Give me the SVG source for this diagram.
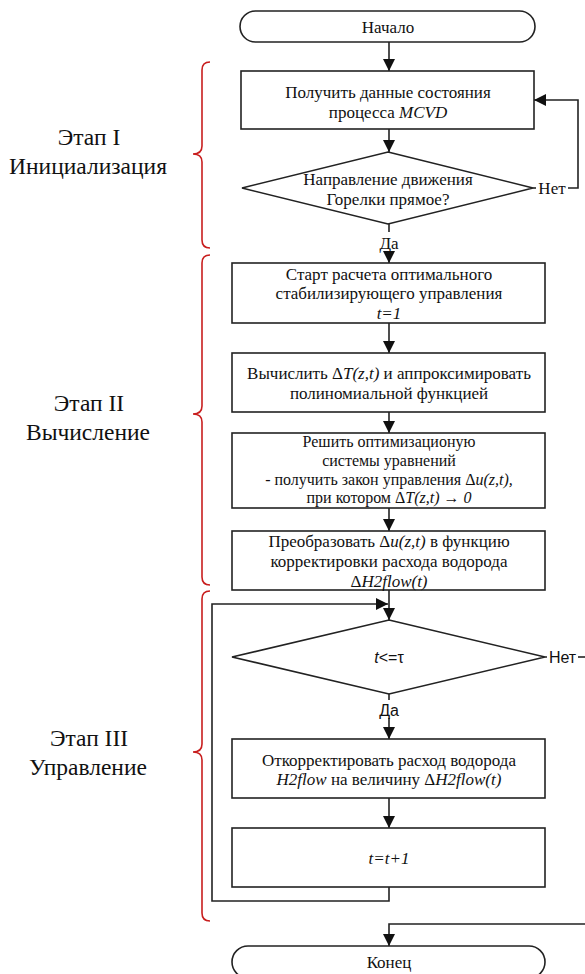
<svg xmlns="http://www.w3.org/2000/svg" width="585" height="974" viewBox="0 0 585 974" font-family="Liberation Serif, Times New Roman, serif">
<defs>
<style>
.n{fill:#fff;stroke:#222;stroke-width:1.6}
.c{fill:none;stroke:#222;stroke-width:1.6}
.b{fill:none;stroke:#c81e1e;stroke-width:1.6}
.t{font-size:17px;fill:#111;text-anchor:middle}
.m{font-size:16px}
.s{font-size:23.5px;fill:#111;text-anchor:middle}
.f{font-size:16px;fill:#111;text-anchor:middle}
.i{font-style:italic}
</style>
<marker id="ah" viewBox="0 0 12 12" refX="12" refY="6" markerWidth="12" markerHeight="12" markerUnits="userSpaceOnUse" orient="auto">
<path d="M0,0 L12,6 L0,12 z" fill="#111"/>
</marker>
</defs>
<rect width="585" height="974" fill="#fff"/>

<g id="connectors">
<path class="c" d="M389,42 V71" marker-end="url(#ah)"/>
<path class="c" d="M389,129 V152" marker-end="url(#ah)"/>
<path class="c" d="M533,188 H536"/>
<path class="c" d="M568,188 H578 V100 H534" marker-end="url(#ah)"/>
<path class="c" d="M389,224 V232"/>
<path class="c" d="M389,252 V263" marker-end="url(#ah)"/>
<path class="c" d="M389,323 V353" marker-end="url(#ah)"/>
<path class="c" d="M389,412 V433" marker-end="url(#ah)"/>
<path class="c" d="M389,508 V531" marker-end="url(#ah)"/>
<path class="c" d="M389,590 V620" marker-end="url(#ah)"/>
<path class="c" d="M545,657 H547"/>
<path class="c" d="M578,657 H585"/>
<path class="c" d="M389,694 V700"/>
<path class="c" d="M389,718 V739" marker-end="url(#ah)"/>
<path class="c" d="M389,798 V828" marker-end="url(#ah)"/>
<path class="c" d="M389,887 V901 H212 V604 H388" marker-end="url(#ah)"/>
<path class="c" d="M586,924 H389 V946" marker-end="url(#ah)"/>
<text class="t" x="552" y="193.5">Нет</text>
<text class="t" x="389" y="249">Да</text>
<text class="f" x="562.5" y="662.5" font-family="Liberation Sans, Arial, sans-serif">Нет</text>
<text class="f" x="389" y="716" font-family="Liberation Sans, Arial, sans-serif">Да</text>
</g>

<g id="start">
<rect class="n" x="240" y="11" width="295" height="31" rx="15.5"/>
<text class="t" x="388" y="32.5">Начало</text>
</g>

<g id="get-data">
<rect class="n" x="241" y="71" width="293" height="58"/>
<text class="t" x="388" y="97.5">Получить данные состояния</text>
<text class="t" x="388" y="117.5">процесса <tspan class="i">MCVD</tspan></text>
</g>

<g id="direction">
<polygon class="n" points="388,152 533,188 388,224 242,188"/>
<text class="t" x="388" y="184.5">Направление движения</text>
<text class="t" x="388" y="204.5">Горелки прямое?</text>
</g>

<g id="start-calc">
<rect class="n" x="232" y="263" width="313" height="60"/>
<text class="t" x="389" y="280">Старт расчета оптимального</text>
<text class="t" x="389" y="299">стабилизирующего управления</text>
<text class="t i" x="389" y="318.5">t=1</text>
</g>

<g id="compute">
<rect class="n" x="232" y="353" width="313" height="59"/>
<text class="t" x="389" y="378.5">Вычислить Δ<tspan class="i">T(z,t)</tspan> и аппроксимировать</text>
<text class="t" x="389" y="398.5">полиномиальной функцией</text>
</g>

<g id="solve">
<rect class="n" x="232" y="433" width="313" height="75"/>
<text class="t m" x="389" y="447">Решить оптимизационую</text>
<text class="t m" x="389" y="466">системы уравнений</text>
<text class="t m" x="389" y="484.5">- получить закон управления Δ<tspan class="i">u(z,t),</tspan></text>
<text class="t m" x="389" y="503">при котором Δ<tspan class="i">T(z,t) → 0</tspan></text>
</g>

<g id="transform">
<rect class="n" x="232" y="531" width="313" height="59"/>
<text class="t" x="389" y="547">Преобразовать Δ<tspan class="i">u(z,t)</tspan> в функцию</text>
<text class="t" x="389" y="567">корректировки расхода водорода</text>
<text class="t" x="389" y="587">Δ<tspan class="i">H2flow(t)</tspan></text>
</g>

<g id="check-t">
<polygon class="n" points="389,620 545,657 389,694 232,657"/>
<text class="f" x="389" y="662.5" font-family="Liberation Sans, Arial, sans-serif"><tspan class="i">t</tspan>&lt;=τ</text>
</g>

<g id="correct">
<rect class="n" x="232" y="739" width="313" height="59"/>
<text class="t" x="389" y="765.5">Откорректировать расход водорода</text>
<text class="t" x="389" y="784.5"><tspan class="i">H2flow</tspan> на величину Δ<tspan class="i">H2flow(t)</tspan></text>
</g>

<g id="increment">
<rect class="n" x="232" y="828" width="313" height="59"/>
<text class="t i" x="389" y="863.5">t=t+1</text>
</g>

<g id="end">
<rect class="n" x="232" y="946" width="313" height="32" rx="16"/>
<text class="t" x="389" y="967.5">Конец</text>
</g>

<g id="stage1">
<path class="b" d="M210,62 Q202,62 202,70 V146 Q202,154 193,154 Q202,154 202,162 V240 Q202,248 210,248"/>
<text class="s" x="89" y="145">Этап I</text>
<text class="s" x="88" y="174">Инициализация</text>
</g>
<g id="stage2">
<path class="b" d="M210,255 Q202,255 202,263 V406 Q202,414 193,414 Q202,414 202,422 V577 Q202,585 210,585"/>
<text class="s" x="89" y="411">Этап II</text>
<text class="s" x="88" y="440">Вычисление</text>
</g>
<g id="stage3">
<path class="b" d="M210,591 Q202,591 202,599 V744 Q202,752 193,752 Q202,752 202,760 V913 Q202,921 210,921"/>
<text class="s" x="89" y="746">Этап III</text>
<text class="s" x="88" y="775">Управление</text>
</g>
</svg>
